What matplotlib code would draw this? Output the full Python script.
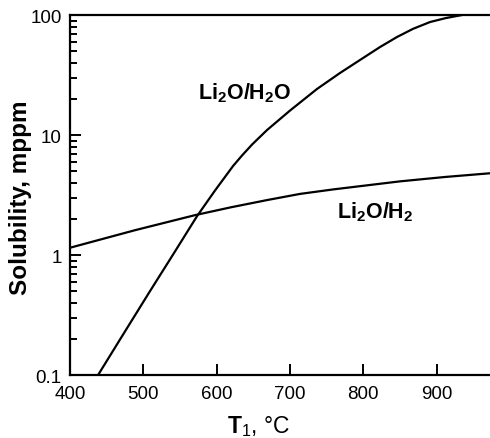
import numpy as np
import matplotlib
matplotlib.use('Agg')
import matplotlib.pyplot as plt
from matplotlib.ticker import LogLocator, NullFormatter

plt.rcParams['font.family'] = ['Liberation Sans', 'DejaVu Sans']
plt.rcParams['mathtext.fontset'] = 'custom'
plt.rcParams['mathtext.rm'] = 'Liberation Sans'
plt.rcParams['mathtext.bf'] = 'Liberation Sans:bold'

# Li2O/H2O curve
t_h2o = [438.2, 473.6, 509.1, 540.5, 573.2, 597.7, 622.3, 634.5, 648.2, 668.6,
         700.0, 736.8, 768.2, 799.5, 822.7, 845.9, 867.7, 890.9, 912.7, 934.5]
s_h2o = [0.1, 0.224, 0.501, 1.01, 2.11, 3.45, 5.52, 6.75, 8.33, 11.0,
         16.0, 24.2, 32.9, 43.8, 54.1, 65.6, 76.7, 87.4, 94.4, 100]

# Li2O/H2 curve
t_h2 = [400, 488.6, 570.5, 619.6, 668.7, 713.6, 758.7, 850, 911.4, 972.7]
s_h2 = [1.15, 1.61, 2.15, 2.50, 2.87, 3.23, 3.52, 4.11, 4.47, 4.80]

fig = plt.figure(figsize=(4.9, 4.39), dpi=100)
ax = fig.add_axes([0.143, 0.1435, 0.857, 0.82])

ax.plot(t_h2o, s_h2o, 'k-', lw=1.6)
ax.plot(t_h2, s_h2, 'k-', lw=1.6)

ax.set_yscale('log')
ax.set_xlim(400, 972.7)
ax.set_ylim(0.1, 100)

ax.set_yticks([0.1, 1, 10, 100])
ax.set_yticklabels(['0.1', '1', '10', '100'])
ax.yaxis.set_minor_locator(LogLocator(base=10, subs=np.arange(2, 10)))
ax.yaxis.set_minor_formatter(NullFormatter())
ax.set_xticks([400, 500, 600, 700, 800, 900])

ax.tick_params(axis='both', which='both', direction='in', top=False, right=False,
               labelsize=13.5, width=1.4)
ax.tick_params(axis='both', which='major', length=8)
ax.tick_params(axis='y', which='minor', length=5)
ax.tick_params(axis='x', pad=7)
ax.tick_params(axis='y', pad=6)

for s in ['left', 'bottom', 'top']:
    ax.spines[s].set_linewidth(1.6)
ax.spines['right'].set_visible(False)

ax.set_ylabel('Solubility, mppm', fontsize=17.5, fontweight='bold')
ax.yaxis.set_label_coords(-0.09, 0.494)
ax.set_xlabel(r'$\mathbf{T}_{1}$, °C', fontsize=16.5)
ax.xaxis.set_label_coords(0.448, -0.105)

ax.text(0.305, 0.786, r'Li$_{\mathbf{2}}$O/H$_{\mathbf{2}}$O', transform=ax.transAxes,
        fontsize=15.5, fontweight='bold', ha='left', va='center')
ax.text(0.636, 0.456, r'Li$_{\mathbf{2}}$O/H$_{\mathbf{2}}$', transform=ax.transAxes,
        fontsize=15.5, fontweight='bold', ha='left', va='center')

fig.savefig('out.png', dpi=100)
